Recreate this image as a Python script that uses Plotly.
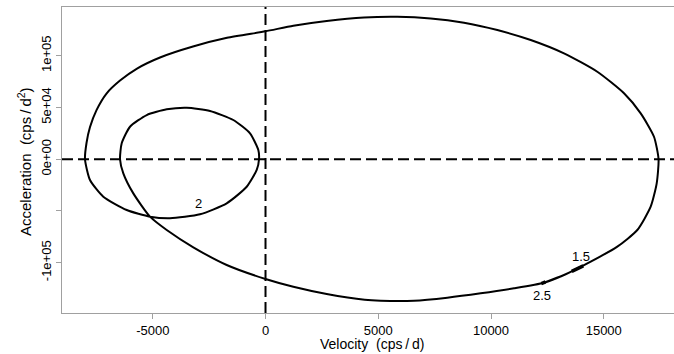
import plotly.graph_objects as go

# Phase-plane trajectory (velocity, acceleration), t = 1.5 -> 2.5
velocity = [14100, 13237, 12350, 11020, 9543, 8062, 6585, 5108, 4400, 2714, 1233, 0,
            -1721, -3202, -4381, -5122, -5862, -6306, -6452, -6377, -6009, -5268, -4381,
            -3494, -2461, -1428, -687, -319, -288, -390, -834, -1721, -2905, -4235, -5122,
            -6155, -7193, -7783, -8005, -7938, -7783, -7494, -7051, -6452, -5698, -4678,
            -3215, -1707, 0, 1233, 2714, 4368, 5846, 7326, 8803, 10280, 11761, 13237, 14714,
            15898, 16639, 17228, 17430, 17348, 17081, 16488, 15601, 14421, 13237, 12350]
acceleration = [-102500, -111900, -119300, -124700, -129600, -133800, -136700, -136700,
                -135800, -130200, -123200, -115700, -102200, -85100, -68400, -55500, -33000,
                -13600, 0, 15400, 31400, 42700, 48200, 49800, 46600, 37900, 25000, 8900, 0,
                -10400, -26600, -42600, -53200, -57100, -55500, -49100, -36200, -20100, 0,
                15700, 31100, 47500, 63500, 76000, 87600, 98300, 108900, 117300, 123600,
                129000, 133600, 137000, 137700, 136100, 131900, 124800, 115200, 102300, 84500,
                63700, 44300, 21700, 0, -23300, -45900, -68400, -84500, -99000, -111900, -119300]

# Time labels and their positions
label_text = ["1.5", "2", "2.5"]
label_vel = [13978, -2980, 12275]
label_acc = [-94200, -42600, -131900]

# Short thick marks at t = 1.5 and t = 2.5
mark15_vel = [13580, 14090]
mark15_acc = [-108300, -103000]
mark25_vel = [12230, 12420]
mark25_acc = [-120200, -118600]

xticks = [-5000, 0, 5000, 10000, 15000]
xticktext = ["-5000", "0", "5000", "10000", "15000"]
yticks = [-100000, -50000, 0, 50000, 100000]
yticktext = ["-1e+05", "", "0e+00", "5e+04", "1e+05"]

FONT = "Liberation Sans, Arial, sans-serif"
FRAME = "#a0a0a0"

fig = go.Figure()
fig.add_trace(go.Scatter(x=velocity, y=acceleration, mode="lines",
                         line=dict(color="black", width=2, shape="spline", smoothing=0.6),
                         hoverinfo="skip", showlegend=False))
for mv, ma in [(mark15_vel, mark15_acc), (mark25_vel, mark25_acc)]:
    fig.add_trace(go.Scatter(x=mv, y=ma, mode="lines",
                             line=dict(color="black", width=3.5),
                             hoverinfo="skip", showlegend=False))

# dashed zero lines
fig.add_shape(type="line", xref="paper", yref="y", x0=0, x1=1, y0=0, y1=0,
              line=dict(color="black", width=2, dash="11px,5px"))
fig.add_shape(type="line", xref="x", yref="paper", x0=0, x1=0, y0=0, y1=1,
              line=dict(color="black", width=2, dash="11px,5px"))

for t, v, a in zip(label_text, label_vel, label_acc):
    fig.add_annotation(x=v, y=a, text=t, showarrow=False,
                       font=dict(family=FONT, size=13, color="black"),
                       xanchor="center", yanchor="middle")

# axis titles
fig.add_annotation(xref="paper", yref="paper", x=(372 - 62) / 612, y=-(343.5 - 313) / 306,
                   text="Velocity\u00a0 (cps\u2009/\u2009d)", showarrow=False,
                   font=dict(family=FONT, size=14, color="black"),
                   xanchor="center", yanchor="middle")
fig.add_annotation(xref="paper", yref="paper", x=-(62 - 24) / 612, y=(313 - 162) / 306,
                   textangle=-90,
                   text="Acceleration\u00a0 (cps\u2009/\u2009d<sup>2</sup>)", showarrow=False,
                   font=dict(family=FONT, size=15, color="black"),
                   xanchor="center", yanchor="middle")

fig.update_layout(
    width=674, height=354,
    margin=dict(l=62, r=0, t=7, b=41),
    paper_bgcolor="white", plot_bgcolor="white",
    showlegend=False,
    xaxis=dict(range=[-9025, 18115], tickvals=xticks, ticktext=xticktext,
               showgrid=False, zeroline=False, showline=True, mirror=True,
               linecolor=FRAME, linewidth=1, ticks="outside", ticklen=5, tickcolor=FRAME,
               tickfont=dict(family=FONT, size=13, color="black")),
    yaxis=dict(range=[-148600, 147100], tickvals=yticks, ticktext=yticktext,
               showgrid=False, zeroline=False, showline=True, mirror=True,
               linecolor=FRAME, linewidth=1, ticks="outside", ticklen=5, tickcolor=FRAME,
               tickangle=-90, tickfont=dict(family=FONT, size=13, color="black")),
)

fig.write_html("out.html", config={"displayModeBar": False, "staticPlot": True},
               post_script="document.body.style.margin='0px';document.body.style.overflow='hidden';")
